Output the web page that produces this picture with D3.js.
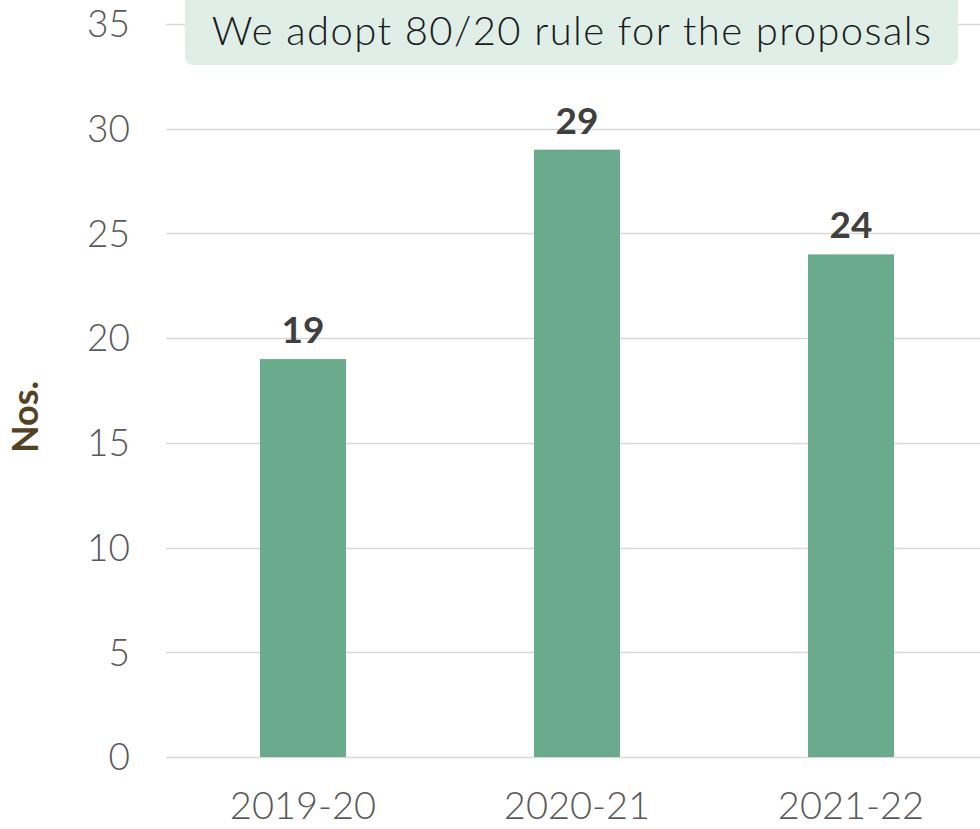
<!DOCTYPE html>
<html>
<head>
<meta charset="utf-8">
<script src="https://cdn.jsdelivr.net/npm/d3@7"></script>
<style>
  body { margin: 0; background: #fff; }
  text { font-family: Lato, "Open Sans", sans-serif; }
</style>
</head>
<body>
<div id="chart"></div>
<script>
var years = ["2019-20", "2020-21", "2021-22"];
var counts = [19, 29, 24];
var yTicks = [0, 5, 10, 15, 20, 25, 30, 35];
var note = "We adopt 80/20 rule for the proposals";

var width = 980,
    height = 829;

var svg = d3.select("#chart").append("svg")
    .attr("width", width)
    .attr("height", height);

// y scale: 0 at bottom gridline, 35 at the top
var y = d3.scaleLinear()
    .domain([0, 35])
    .range([757, 24]);

// x scale, bars are narrow inside each band
var x = d3.scaleBand()
    .domain(years)
    .range([166, 988])
    .paddingInner(0.686)
    .paddingOuter(0.343);

// gridlines
svg.append("g")
    .selectAll("line")
    .data(yTicks)
    .join("line")
    .attr("x1", 166)
    .attr("x2", width)
    .attr("y1", function(d) { return Math.round(y(d)) + 0.5; })
    .attr("y2", function(d) { return Math.round(y(d)) + 0.5; })
    .attr("stroke", "#d9d9d9")
    .attr("stroke-width", 1.5);

// y tick labels
svg.append("g")
    .selectAll("text")
    .data(yTicks)
    .join("text")
    .attr("x", 130)
    .attr("y", function(d) { return y(d); })
    .attr("dy", "0.36em")
    .attr("text-anchor", "end")
    .attr("fill", "#595959")
    .style("font-size", "37px")
    .style("font-weight", 300)
    .text(function(d) { return d; });

// bars
svg.append("g")
    .selectAll("rect")
    .data(counts)
    .join("rect")
    .attr("x", function(d, i) { return x(years[i]); })
    .attr("y", function(d) { return y(d); })
    .attr("width", x.bandwidth())
    .attr("height", function(d) { return y(0) - y(d); })
    .attr("fill", "#6aab8e");

// value labels
svg.append("g")
    .selectAll("text")
    .data(counts)
    .join("text")
    .attr("x", function(d, i) { return x(years[i]) + x.bandwidth() / 2; })
    .attr("y", function(d) { return y(d) - 16; })
    .attr("text-anchor", "middle")
    .attr("fill", "#404040")
    .style("font-size", "37px")
    .style("font-weight", "bold")
    .text(function(d) { return d; });

// x labels
svg.append("g")
    .selectAll("text")
    .data(years)
    .join("text")
    .attr("x", function(d) { return x(d) + x.bandwidth() / 2; })
    .attr("y", 819)
    .attr("text-anchor", "middle")
    .attr("fill", "#595959")
    .style("font-size", "38px")
    .style("font-weight", 300)
    .text(function(d) { return d; });

// axis title
svg.append("text")
    .attr("transform", "translate(38,417)rotate(-90)")
    .attr("text-anchor", "middle")
    .attr("fill", "#524221")
    .style("font-size", "36px")
    .style("font-weight", "bold")
    .text("Nos.");

// note box at top
svg.append("rect")
    .attr("x", 185)
    .attr("y", -8)
    .attr("width", 773)
    .attr("height", 73)
    .attr("rx", 8)
    .attr("fill", "#e0eee8");

svg.append("text")
    .attr("x", 572)
    .attr("y", 45)
    .attr("text-anchor", "middle")
    .attr("fill", "#1a1a1a")
    .style("font-size", "40px")
    .style("font-weight", 300)
    .style("letter-spacing", "1.4px")
    .text(note);
</script>
</body>
</html>
